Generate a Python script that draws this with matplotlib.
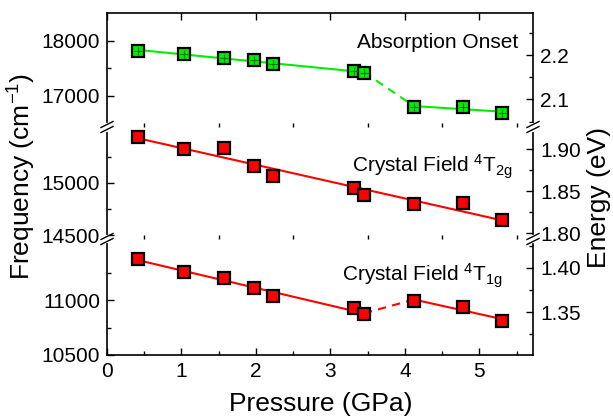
import numpy as np
import matplotlib
matplotlib.use("Agg")
import matplotlib.pyplot as plt
from matplotlib.lines import Line2D

plt.rcParams['font.family'] = ['Liberation Sans', 'DejaVu Sans']
plt.rcParams['mathtext.fontset'] = 'custom'
plt.rcParams['mathtext.rm'] = 'Liberation Sans'
plt.rcParams['mathtext.it'] = 'Liberation Sans'

# data
pressure = [0.42, 1.03, 1.57, 1.97, 2.23, 3.31, 3.45, 4.12, 4.78, 5.31]
onset = [17818, 17764, 17691, 17655, 17582, 17455, 17418, 16800, 16800, 16691]
t2g = [15442, 15327, 15337, 15163, 15067, 14952, 14885, 14798, 14808, 14644]
t1g = [11373, 11255, 11200, 11109, 11036, 10927, 10873, 10991, 10936, 10809]

CM_PER_EV = 8065.54

W, H = 613, 420
fig = plt.figure(figsize=(W / 100, H / 100), dpi=100)

x0, x1 = 107, 533
top, b1, b2, bot = 13, 127, 239, 355


def fr(px_l, px_t, px_r, px_b):
    return [px_l / W, 1 - px_b / H, (px_r - px_l) / W, (px_b - px_t) / H]


ax_top = fig.add_axes(fr(x0, top, x1, b1))
ax_mid = fig.add_axes(fr(x0, b1, x1, b2))
ax_bot = fig.add_axes(fr(x0, b2, x1, bot))
axes = [ax_top, ax_mid, ax_bot]

ylims = [(16436, 18509), (14462, 15538), (10500, 11555)]
yticks = [[17000, 18000], [14500, 15000], [10500, 11000]]
yminor = [[17500], [14750, 15250], [10750, 11250]]
eticks = [[2.1, 2.2], [1.80, 1.85, 1.90], [1.35, 1.40]]
eminor = [[2.05, 2.15, 2.25], [1.825, 1.875], [1.325, 1.375, 1.425]]
efmt = ['%.1f', '%.2f', '%.2f']

for i, ax in enumerate(axes):
    ax.set_xlim(0, 5.72)
    ax.set_ylim(*ylims[i])
    ax.set_yticks(yticks[i])
    ax.set_yticks(yminor[i], minor=True)
    ax.set_xticks([0, 1, 2, 3, 4, 5])
    ax.set_xticks([0.5, 1.5, 2.5, 3.5, 4.5, 5.5], minor=True)
    ax.tick_params(which='both', direction='in', width=1, labelsize=15, pad=5)
    ax.tick_params(which='major', length=5)
    ax.tick_params(which='minor', length=3)
    ax.tick_params(axis='x', top=(i == 0), bottom=(i == 2), labelbottom=(i == 2))
    ax.tick_params(axis='y', right=False)
    ax.spines['right'].set_visible(False)
    for s in ax.spines.values():
        s.set_linewidth(1.2)
    if i != 0:
        ax.spines['top'].set_visible(False)
    if i != 2:
        ax.spines['bottom'].set_visible(False)
    ax.patch.set_alpha(0)

    sec = ax.secondary_yaxis('right', functions=(lambda f: f / CM_PER_EV, lambda e: e * CM_PER_EV))
    sec.set_yticks(eticks[i])
    sec.set_yticks(eminor[i], minor=True)
    sec.set_yticklabels([efmt[i] % v for v in eticks[i]])
    sec.tick_params(which='both', direction='in', width=1, labelsize=15, pad=5)
    sec.tick_params(which='major', length=5)
    sec.tick_params(which='minor', length=3)
    sec.spines['right'].set_linewidth(1.2)

green = '#00ee00'
red = '#ff0000'
p = np.array(pressure)


def fit_line(ax, xs, ys, color, ls='-'):
    k, b = np.polyfit(xs, ys, 1)
    xx = np.array([xs[0], xs[-1]])
    ax.plot(xx, k * xx + b, color=color, lw=1.5, ls=ls, zorder=2)
    return k, b


# absorption onset
y = np.array(onset)
k1, c1 = fit_line(ax_top, p[:7], y[:7], green)
k2, c2 = fit_line(ax_top, p[7:], y[7:], green)
ax_top.plot([p[6], p[7]], [k1 * p[6] + c1, k2 * p[7] + c2], color=green, lw=1.5, ls=(0, (4, 3)))
ax_top.plot(p, y, ls='none', marker='s', ms=8, mfc=green, mec='black', mew=1.6, zorder=3)
ax_top.plot(p, y, ls='none', marker='+', ms=6, mec='#007700', mew=0.8, zorder=4)

# 4T2g
y = np.array(t2g)
fit_line(ax_mid, p, y, red)
ax_mid.plot(p, y, ls='none', marker='s', ms=8, mfc=red, mec='black', mew=1.6, zorder=3)

# 4T1g
y = np.array(t1g)
k1, c1 = fit_line(ax_bot, p[:7], y[:7], red)
k2, c2 = fit_line(ax_bot, p[7:], y[7:], red)
ax_bot.plot([p[6], p[7]], [k1 * p[6] + c1, k2 * p[7] + c2], color=red, lw=1.5, ls=(0, (4, 3)))
ax_bot.plot(p, y, ls='none', marker='s', ms=8, mfc=red, mec='black', mew=1.6, zorder=3)

ax_top.text(0.965, 0.737, 'Absorption Onset', transform=ax_top.transAxes,
            ha='right', va='center', fontsize=15)
ax_mid.text(0.953, 0.643, r'Crystal Field $^{4}$T$_{2g}$', transform=ax_mid.transAxes,
            ha='right', va='center', fontsize=15)
ax_bot.text(0.93, 0.681, r'Crystal Field $^{4}$T$_{1g}$', transform=ax_bot.transAxes,
            ha='right', va='center', fontsize=15)

# break marks on both spines
for yb in [b1, b2]:
    for xs in [x0, x1]:
        fig.add_artist(Line2D([xs / W, xs / W], [1 - (yb - 2.5) / H, 1 - (yb + 2.5) / H],
                              color='white', lw=3, transform=fig.transFigure))
        for dy in [-2.5, 2.5]:
            fig.add_artist(Line2D([(xs - 6) / W, (xs + 6) / W],
                                  [1 - (yb + dy + 3) / H, 1 - (yb + dy - 3) / H],
                                  color='black', lw=1, transform=fig.transFigure))

fig.text(321 / W, 1 - 404 / H, 'Pressure (GPa)', ha='center', va='center', fontsize=19)
fig.text(22 / W, 1 - 176 / H, r'Frequency (cm$^{-1}$)', ha='center', va='center',
         rotation=90, fontsize=19)
fig.text(599 / W, 1 - 197 / H, 'Energy (eV)', ha='center', va='center',
         rotation=90, fontsize=19)

fig.savefig('out.png', dpi=100)
